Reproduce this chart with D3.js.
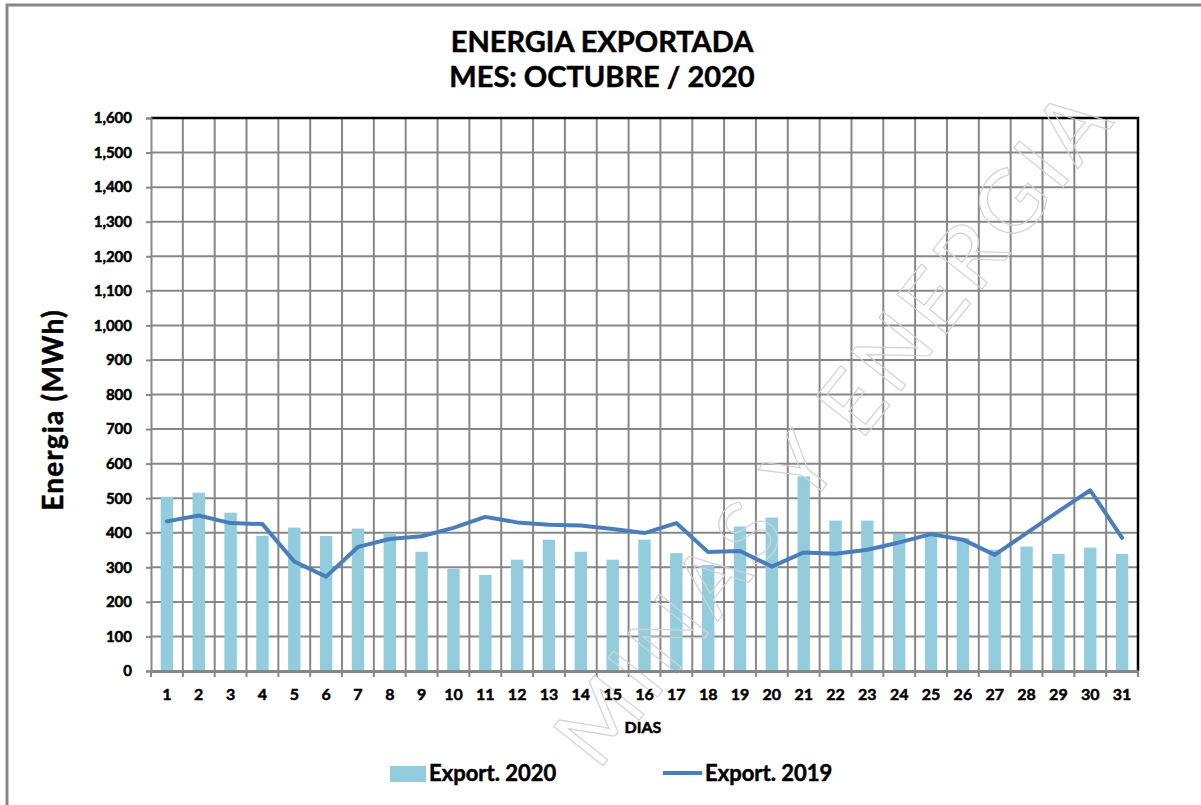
<!DOCTYPE html>
<html>
<head>
<meta charset="utf-8">
<script src="https://cdn.jsdelivr.net/npm/d3@7"></script>
<style>
  body { margin: 0; background: #fff; }
  text { font-family: Lato, 'Open Sans', sans-serif; font-weight: 700; fill: #000; stroke: #000; stroke-width: 0.5px; }
</style>
</head>
<body>
<svg id="chart" width="1201" height="805"></svg>
<script>
// Data
const days = ['1', '2', '3', '4', '5', '6', '7', '8', '9', '10', '11', '12', '13', '14', '15', '16',
  '17', '18', '19', '20', '21', '22', '23', '24', '25', '26', '27', '28', '29', '30', '31']
const export2020 = [504, 516, 458, 391, 415, 391, 412, 399, 345, 296, 278, 322, 380, 345, 322, 380,
  341, 307, 418, 444, 563, 435, 435, 397, 396, 385, 351, 360, 339, 357, 339]
const export2019 = [433, 450, 428, 425, 317, 273, 359, 382, 390, 414, 446, 430, 423, 421, 411, 399,
  428, 344, 347, 302, 343, 339, 351, 372, 396, 380, 336, 399, 462, 523, 385]
const yTicks = [0, 100, 200, 300, 400, 500, 600, 700, 800, 900, 1000, 1100, 1200, 1300, 1400, 1500, 1600]

const svg = d3.select('#chart')
const margin = {top: 118, right: 63, bottom: 134, left: 151}
const W = +svg.attr('width')
const H = +svg.attr('height')
const gray = '#878787'

svg.append('rect').attr('width', W).attr('height', H).attr('fill', '#fff')

// outer frame (right and bottom edges fall outside the picture)
svg.append('rect')
  .attr('x', 7).attr('y', 5).attr('width', W + 20).attr('height', H + 20)
  .attr('fill', 'none').attr('stroke', gray).attr('stroke-width', 3)

const x = d3.scaleBand()
  .domain(days)
  .range([margin.left, W - margin.right])
  .paddingInner(0.61)
  .paddingOuter(0.305)

const y = d3.scaleLinear()
  .domain([0, 1600])
  .range([H - margin.bottom, margin.top])

const step = x.step()
const edge = d => x(d) + x.bandwidth() / 2 - step / 2

// horizontal gridlines
svg.append('g')
  .selectAll('line')
  .data(yTicks.slice(1, -1))
  .enter().append('line')
  .attr('x1', margin.left).attr('x2', W - margin.right)
  .attr('y1', d => y(d)).attr('y2', d => y(d))
  .attr('stroke', gray).attr('stroke-width', 2)

// vertical gridlines + ticks below axis at category edges
svg.append('g')
  .selectAll('line')
  .data(days.slice(1))
  .enter().append('line')
  .attr('x1', d => edge(d)).attr('x2', d => edge(d))
  .attr('y1', y(1600)).attr('y2', y(0) + 6)
  .attr('stroke', gray).attr('stroke-width', 2)

svg.append('g')
  .selectAll('line')
  .data([x.range()[0], x.range()[1]])
  .enter().append('line')
  .attr('x1', d => d).attr('x2', d => d)
  .attr('y1', y(0)).attr('y2', y(0) + 6)
  .attr('stroke', gray).attr('stroke-width', 2)

// top and right border of plot area
svg.append('path')
  .attr('d', 'M' + margin.left + ',' + y(1600) + 'H' + x.range()[1] + 'V' + y(0))
  .attr('fill', 'none').attr('stroke', '#000').attr('stroke-width', 2.5)

// bars
svg.append('g')
  .selectAll('rect')
  .data(export2020)
  .enter().append('rect')
  .attr('x', (d, i) => x(days[i]))
  .attr('y', d => y(d))
  .attr('width', x.bandwidth())
  .attr('height', d => y(0) - y(d))
  .attr('fill', '#93CDDD')

// watermark (outlined text), kept inside the picture
svg.append('text')
  .attr('transform', 'translate(598,772) rotate(-51.5)')
  .attr('font-size', 88)
  .style('font-weight', 400)
  .style('fill', 'none')
  .style('stroke', '#d2d2d2')
  .style('stroke-width', '1.2px')
  .attr('letter-spacing', 6)
  .text('MINAS Y ENERGIA')

// line
const line = d3.line()
  .x((d, i) => x(days[i]) + x.bandwidth() / 2)
  .y(d => y(d))

svg.append('path')
  .datum(export2019)
  .attr('d', line)
  .attr('fill', 'none')
  .attr('stroke', '#4A7EBB')
  .attr('stroke-width', 4)
  .attr('stroke-linejoin', 'round')
  .attr('stroke-linecap', 'round')

// axes
const yAxis = svg.append('g')
  .attr('transform', 'translate(' + margin.left + ',0)')
  .call(d3.axisLeft(y).tickValues(yTicks).tickSize(5).tickPadding(14).tickFormat(d3.format(',')))
yAxis.select('.domain').attr('stroke', gray).attr('stroke-width', 2)
yAxis.selectAll('.tick line').attr('stroke', gray).attr('stroke-width', 2)
yAxis.selectAll('.tick text').attr('font-size', 15).attr('font-family', null)

const xAxis = svg.append('g')
  .attr('transform', 'translate(0,' + y(0) + ')')
  .call(d3.axisBottom(x).tickSize(0).tickPadding(18))
xAxis.select('.domain').attr('stroke', gray).attr('stroke-width', 3)
xAxis.selectAll('.tick text').attr('font-size', 16).attr('font-family', null)

// titles
const title = svg.append('text')
  .attr('x', 602).attr('text-anchor', 'middle').attr('font-size', 29)
title.append('tspan').attr('x', 602).attr('y', 52).text('ENERGIA EXPORTADA')
title.append('tspan').attr('x', 602).attr('y', 87).text('MES: OCTUBRE / 2020')

svg.append('text')
  .attr('transform', 'translate(63,410) rotate(-90)')
  .attr('text-anchor', 'middle').attr('font-size', 28).attr('letter-spacing', 1.2)
  .text('Energia (MWh)')

svg.append('text')
  .attr('x', 643).attr('y', 733).attr('text-anchor', 'middle').attr('font-size', 16)
  .text('DIAS')

// legend
const legend = svg.append('g').attr('font-size', 22)
legend.append('rect')
  .attr('x', 390).attr('y', 766).attr('width', 36).attr('height', 16).attr('fill', '#93CDDD')
legend.append('text').attr('x', 429).attr('y', 781).text('Export. 2020')
legend.append('line')
  .attr('x1', 663).attr('x2', 702).attr('y1', 773).attr('y2', 773)
  .attr('stroke', '#4A7EBB').attr('stroke-width', 4)
legend.append('text').attr('x', 705).attr('y', 781).text('Export. 2019')
</script>
</body>
</html>
